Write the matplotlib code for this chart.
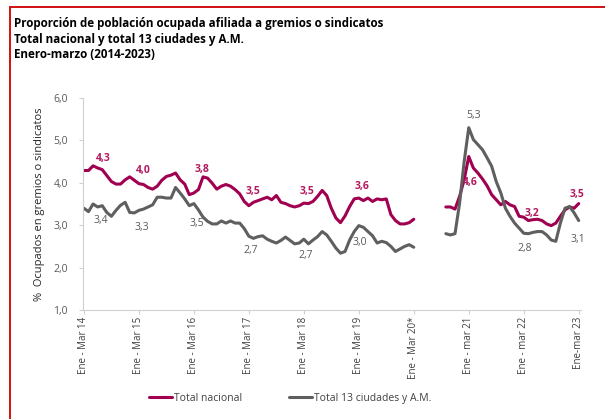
import matplotlib.pyplot as plt
import matplotlib.patches as mpatches
import numpy as np

# Trimestres moviles: indice 0 = Ene-Mar 14, 108 = Ene-Mar 23
TICK_IDX = [0, 12, 24, 36, 48, 60, 72, 84, 96, 108]
TICK_LABELS = ["Ene - Mar 14", "Ene - Mar 15", "Ene - Mar 16", "Ene - Mar 17", "Ene - Mar 18",
               "Ene - Mar 19", "Ene - Mar 20*", "Ene - mar 21", "Ene - mar 22", "Ene-mar 23"]

# tramo 1: Ene-Mar 14 .. Ene-Mar 20 (indices 0..72)
nacional_a = [4.29, 4.29, 4.40, 4.35, 4.31, 4.17, 4.03, 3.97, 3.97, 4.07, 4.14, 4.06,
              3.98, 3.96, 3.89, 3.85, 3.92, 4.06, 4.15, 4.18, 4.23, 4.07, 3.97, 3.72,
              3.76, 3.84, 4.14, 4.11, 3.99, 3.85, 3.92, 3.96, 3.92, 3.84, 3.74, 3.56,
              3.46, 3.54, 3.58, 3.62, 3.66, 3.60, 3.70, 3.54, 3.51, 3.46, 3.43, 3.46,
              3.52, 3.51, 3.56, 3.68, 3.82, 3.70, 3.40, 3.17, 3.06, 3.22, 3.44, 3.62,
              3.64, 3.58, 3.64, 3.56, 3.62, 3.60, 3.62, 3.25, 3.11, 3.03, 3.03, 3.06,
              3.14]
ciudades_a = [3.40, 3.32, 3.50, 3.43, 3.46, 3.30, 3.21, 3.35, 3.47, 3.54, 3.30, 3.29,
              3.35, 3.38, 3.43, 3.48, 3.66, 3.66, 3.64, 3.64, 3.89, 3.76, 3.62, 3.46,
              3.51, 3.36, 3.19, 3.09, 3.03, 3.03, 3.10, 3.05, 3.10, 3.05, 3.05, 2.92,
              2.74, 2.69, 2.73, 2.75, 2.67, 2.62, 2.58, 2.64, 2.72, 2.64, 2.56, 2.58,
              2.67, 2.56, 2.65, 2.73, 2.85, 2.77, 2.62, 2.46, 2.34, 2.38, 2.65, 2.85,
              2.99, 2.95, 2.85, 2.75, 2.58, 2.62, 2.59, 2.50, 2.38, 2.44, 2.50, 2.54,
              2.48]
# tramo 2: Ago-Oct 20 .. Ene-mar 23 (indices 79..108)
nacional_b = [3.43, 3.43, 3.38, 3.68, 4.07, 4.62, 4.35, 4.23, 4.09, 3.93, 3.72, 3.60,
              3.48, 3.56, 3.48, 3.44, 3.21, 3.19, 3.11, 3.13, 3.14, 3.11, 3.03, 2.99,
              3.05, 3.21, 3.36, 3.43, 3.40, 3.51]
ciudades_b = [2.80, 2.77, 2.80, 3.52, 4.50, 5.30, 5.02, 4.90, 4.78, 4.59, 4.39, 4.03,
              3.76, 3.40, 3.21, 3.05, 2.93, 2.81, 2.80, 2.83, 2.85, 2.85, 2.77, 2.65,
              2.62, 3.05, 3.40, 3.44, 3.29, 3.11]
START_B = 79

nacional = np.full(109, np.nan)
ciudades = np.full(109, np.nan)
nacional[:len(nacional_a)] = nacional_a
ciudades[:len(ciudades_a)] = ciudades_a
nacional[START_B:] = nacional_b
ciudades[START_B:] = ciudades_b
x = np.arange(109)

# etiquetas de datos: (indice, texto, desplazamiento en pixeles)
lab_nacional = [(0, "4,3", 19, 12), (12, "4,0", 4, 13), (24, "3,8", 8, 23),
                (36, "3,5", 4, 14), (48, "3,5", 3, 12), (60, "3,6", 3, 12),
                (84, "4,6", 2, -26), (96, "3,2", 8, 4), (108, "3,5", -2, 9)]
lab_ciudades = [(0, "3,4", 17, -12), (12, "3,3", 3, -17), (24, "3,5", 3, -20),
                (36, "2,7", 2, -14), (48, "2,7", 2, -16), (60, "3,0", 1, -17),
                (84, "5,3", 5, 12), (96, "2,8", 1, -15), (108, "3,1", -1, -19)]

RED = "#a0004f"
GRAY = "#5f5f5f"
AXIS = "#d0d0d0"
plt.rcParams['font.family'] = ['Open Sans', 'DejaVu Sans']

fig = plt.figure(figsize=(6.05, 4.19), dpi=100)
W, H = 605, 419
ax = fig.add_axes([83 / W, 1 - 310 / H, (581 - 83) / W, (310 - 98) / H])

ax.plot(x, nacional, color=RED, lw=2.2, label="Total nacional", solid_capstyle="round")
ax.plot(x, ciudades, color=GRAY, lw=2.2, label="Total 13 ciudades y A.M.", solid_capstyle="round")

for i, t, dx, dy in lab_nacional:
    ax.annotate(t, (x[i], nacional[i]), xytext=(dx, dy), textcoords="offset pixels",
                ha="center", va="center", fontsize=7.5, fontweight="bold", color="#b3195f")
for i, t, dx, dy in lab_ciudades:
    ax.annotate(t, (x[i], ciudades[i]), xytext=(dx, dy), textcoords="offset pixels",
                ha="center", va="center", fontsize=7.5, color="#595959")

ax.set_xlim(-0.2, 108.5)
ax.set_ylim(1, 6)
ax.set_yticks(np.arange(1, 6.1, 1))
ax.set_yticklabels([f"{v:.1f}".replace(".", ",") for v in np.arange(1, 6.1, 1)])
ax.set_xticks(TICK_IDX)
ax.set_xticklabels(TICK_LABELS, rotation=90, fontsize=7, color="#404040")
ax.tick_params(axis="y", labelsize=7.5, labelcolor="#595959", color=AXIS, length=3, pad=8)
ax.tick_params(axis="x", color=AXIS, length=3, pad=2)
for s in ["top", "right"]:
    ax.spines[s].set_visible(False)
for s in ["left", "bottom"]:
    ax.spines[s].set_color(AXIS)
    ax.spines[s].set_linewidth(0.8)

ax.set_ylabel("%  Ocupados en gremios o sindicatos", fontsize=8, color="#262626")
ax.yaxis.set_label_coords(-0.076, 0.5)

fig.legend(loc="center", bbox_to_anchor=(290 / W, 1 - 398 / H), ncol=2, frameon=False,
           fontsize=7.5, handlelength=2.2, handletextpad=0.2, columnspacing=4.5,
           labelcolor="#404040")

fig.text(14 / W, 1 - 27 / H, "Proporción de población ocupada afiliada a gremios o sindicatos",
         fontsize=8.4, fontweight="bold", va="baseline")
fig.text(14 / W, 1 - 43 / H, "Total nacional y total 13 ciudades y A.M.",
         fontsize=8.4, fontweight="bold", va="baseline")
fig.text(14 / W, 1 - 58 / H, "Enero-marzo (2014-2023)",
         fontsize=8.4, fontweight="bold", va="baseline")

# marco rojo (solo visible arriba e izquierda)
fig.patches.append(mpatches.Rectangle((9.5 / W, -0.1), 1.2, 1 - 7 / H + 0.1, transform=fig.transFigure,
                                      fill=False, edgecolor="#d01010", lw=1.4))

fig.savefig("out.png", dpi=100)
